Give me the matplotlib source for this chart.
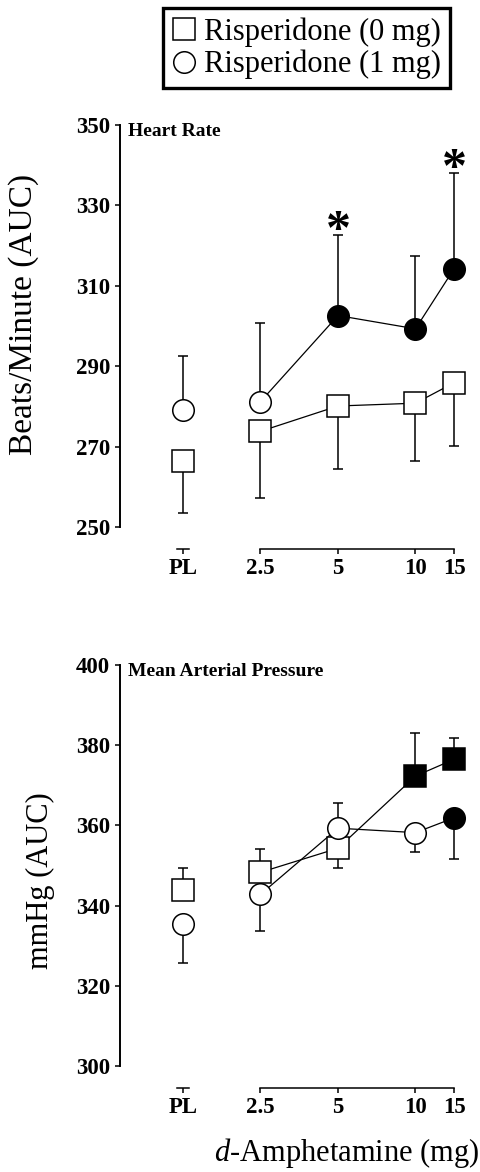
import matplotlib.pyplot as plt
from matplotlib.lines import Line2D
from matplotlib.spines import Spine

plt.rcParams['font.family'] = 'Liberation Serif'
plt.rcParams['mathtext.fontset'] = 'custom'
plt.rcParams['mathtext.rm'] = 'Liberation Serif'
plt.rcParams['mathtext.it'] = 'Liberation Serif:italic'

doses = ['PL', '2.5', '5', '10', '15']
dose_pos = [0, 1, 2, 3, 3.5]
group_labels = ['Risperidone (0 mg)', 'Risperidone (1 mg)']

# heart rate, beats/min (AUC)
hr_0mg = [266.3, 273.8, 280.1, 280.8, 285.9]
hr_0mg_sem = [12.7, 16.7, 15.7, 14.5, 15.8]
hr_0mg_side = [-1, -1, -1, -1, -1]
hr_0mg_sig = [False, False, False, False, False]
hr_1mg = [279.0, 281.2, 302.6, 299.3, 314.3]
hr_1mg_sem = [13.6, 19.6, 20.0, 18.0, 23.8]
hr_1mg_side = [1, 1, 1, 1, 1]
hr_1mg_sig = [False, False, True, True, True]
hr_star = [False, False, True, False, True]

# mean arterial pressure, mmHg (AUC)
map_0mg = [344.0, 348.3, 354.3, 372.3, 376.5]
map_0mg_sem = [5.4, 5.7, 5.0, 10.7, 5.2]
map_0mg_side = [1, 1, -1, 1, 1]
map_0mg_sig = [False, False, False, True, True]
map_1mg = [335.3, 342.8, 359.3, 358.2, 361.9]
map_1mg_sem = [9.5, 9.2, 6.3, 4.8, 10.4]
map_1mg_side = [-1, -1, 1, -1, -1]
map_1mg_sig = [False, False, False, False, True]

W, H = 481, 1172
MS = 15.5


def draw_group(ax, means, sem, side, filled, marker):
    lo = [s if d < 0 else 0 for s, d in zip(sem, side)]
    hi = [s if d > 0 else 0 for s, d in zip(sem, side)]
    ax.errorbar(dose_pos, means, yerr=[lo, hi], fmt='none', ecolor='k',
                elinewidth=1.1, capsize=3.3, capthick=1.1, zorder=1, clip_on=False)
    # PL is not joined to the dose curve
    ax.plot(dose_pos[1:], means[1:], '-', color='k', lw=0.9, zorder=2)
    for fill in (False, True):
        xs = [x for x, f in zip(dose_pos, filled) if f == fill]
        ys = [y for y, f in zip(means, filled) if f == fill]
        ax.plot(xs, ys, ls='none', marker=marker, ms=MS,
                mfc='k' if fill else 'white', mec='k', mew=1.1,
                zorder=3, clip_on=False)


def style_axes(ax, ylim, yticks, title):
    ax.set_xlim(-0.813, 3.768)
    ax.set_ylim(*ylim)
    ax.spines['top'].set_visible(False)
    ax.spines['right'].set_visible(False)
    ax.spines['left'].set_linewidth(1.4)
    ax.spines['bottom'].set_linewidth(1.1)
    ax.spines['bottom'].set_position(('outward', 15.5))
    ax.spines['bottom'].set_bounds(1, 3.5)
    pl = Spine.linear_spine(ax, 'bottom')
    pl.set_bounds(-0.08, 0.08)
    pl.set_position(('outward', 15.5))
    pl.set_linewidth(1.1)
    ax.spines['pl'] = pl
    ax.set_xticks(dose_pos, doses)
    ax.set_yticks(yticks)
    ax.tick_params(direction='out', length=3.6, width=1.1, labelsize=16.5, pad=3.4)
    for lbl in ax.get_xticklabels() + ax.get_yticklabels():
        lbl.set_fontweight('bold')
    ax.text(0.022, 1.004, title, transform=ax.transAxes, fontsize=14,
            fontweight='bold', va='top', ha='left')


fig = plt.figure(figsize=(W / 100, H / 100), dpi=100)

ax1 = fig.add_axes([120 / W, 1 - 527 / H, 355 / W, 402 / H])
draw_group(ax1, hr_0mg, hr_0mg_sem, hr_0mg_side, hr_0mg_sig, 's')
draw_group(ax1, hr_1mg, hr_1mg_sem, hr_1mg_side, hr_1mg_sig, 'o')
for x, m, s, st in zip(dose_pos, hr_1mg, hr_1mg_sem, hr_star):
    if st:
        ax1.annotate('*', xy=(x, m + s), xytext=(0, -14.5), textcoords='offset points',
                     ha='center', va='bottom', fontsize=36, fontweight='bold')
style_axes(ax1, (250, 350), range(250, 351, 20), 'Heart Rate')

ax2 = fig.add_axes([120 / W, 1 - 1066 / H, 355 / W, 401 / H])
draw_group(ax2, map_0mg, map_0mg_sem, map_0mg_side, map_0mg_sig, 's')
draw_group(ax2, map_1mg, map_1mg_sem, map_1mg_side, map_1mg_sig, 'o')
style_axes(ax2, (300, 400), range(300, 401, 20), 'Mean Arterial Pressure')

fig.text(24 / W, 1 - 314 / H, 'Beats/Minute (AUC)', rotation=90, fontsize=24,
         ha='center', va='center')
fig.text(40 / W, 1 - 881 / H, 'mmHg (AUC)', rotation=90, fontsize=22,
         ha='center', va='center')
fig.text(480 / W, 0.002, r'$\it{d}$-Amphetamine (mg)', fontsize=22,
         ha='right', va='bottom')

handles = [Line2D([], [], ls='none', marker='s', ms=MS, mfc='white', mec='k', mew=1.1),
           Line2D([], [], ls='none', marker='o', ms=MS, mfc='white', mec='k', mew=1.1)]
leg = fig.legend(handles, group_labels, loc='upper right',
                 bbox_to_anchor=(450 / W, 1 - 8 / H), fontsize=22, frameon=True,
                 fancybox=False, edgecolor='k', framealpha=1, borderpad=0.3,
                 handlelength=0.8, handletextpad=0.25, labelspacing=0.1,
                 borderaxespad=0)
leg.get_frame().set_linewidth(2.4)

fig.savefig('out.png', dpi=100)
